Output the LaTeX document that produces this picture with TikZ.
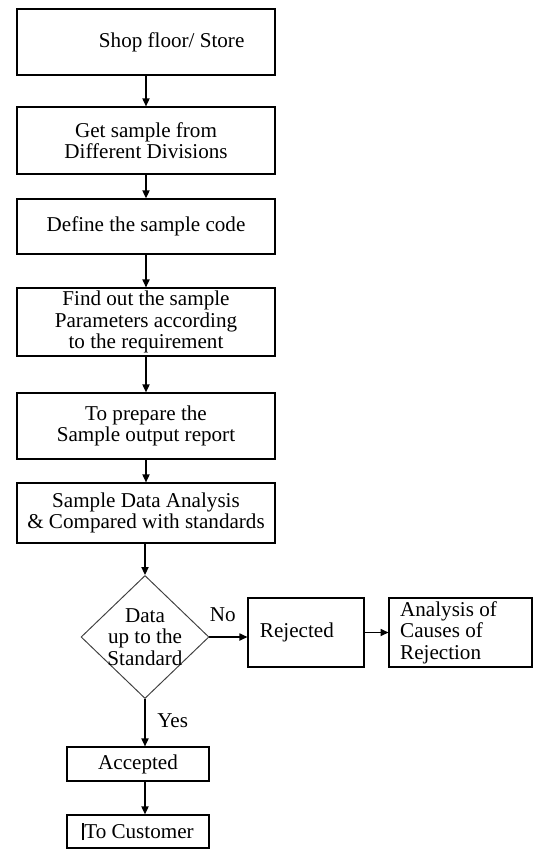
\documentclass[tikz,border=0pt]{standalone}
\usepackage{fontspec}
\setmainfont{Liberation Serif}
\usetikzlibrary{shapes.geometric}
\usetikzlibrary{arrows.meta}
\pgfdeclarelayer{edgelayer}
\pgfdeclarelayer{nodelayer}
\pgfsetlayers{edgelayer,nodelayer,main}
\tikzstyle{box}=[rectangle,fill=white,draw=black,thick,align=center,inner sep=2pt,minimum width=162.5pt]
\tikzstyle{smallbox}=[rectangle,fill=white,draw=black,thick,inner sep=2pt,minimum height=43.5pt]
\tikzstyle{check}=[diamond,fill=white,draw=black!75,semithick,align=center,inner sep=-7pt,minimum width=80.6pt,minimum height=77.5pt]
\tikzstyle{flow}=[-{Triangle[length=5pt,width=4.5pt]},thick]

\begin{document}
\begin{tikzpicture}[x=0.63pt,y=-0.63pt,font=\fontsize{13.3}{13.6}\selectfont]
        \useasboundingbox (0,0) rectangle (534,849);
        \begin{pgfonlayer}{nodelayer}
            \node [style = box, minimum height=41.6pt, text width=124pt, align=flush right] (shop) at (146, 42) {Shop floor/ Store};
            \node [style = box, minimum height=42.2pt] (sample) at (146, 140.5) {Get sample from\\Different Divisions};
            \node [style = box, minimum height=34.7pt] (code) at (146, 226.5) {Define the sample code};
            \node [style = box, minimum height=42.8pt, inner ysep=0pt] (params) at (146, 322) {Find out the sample\\Parameters according\\to the requirement};
            \node [style = box, minimum height=41.6pt] (report) at (146, 426) {To prepare the\\Sample output report};
            \node [style = box, minimum height=37.8pt] (compare) at (146, 513) {Sample Data Analysis\\\& Compared with standards};
            \node [style = check] (dec) at (145, 637) {Data\\up to the\\Standard};
            \node [style = smallbox, minimum width=73pt, text width=58pt, align=flush left] (rej) at (306, 632.5) {Rejected};
            \node [style = smallbox, minimum width=90pt, text width=76pt, align=flush left] (cause) at (460.5, 632.5) {Analysis of\\Causes of\\Rejection};
            \node [style = box, minimum width=89.5pt, minimum height=21.4pt] (acc) at (138, 764) {Accepted};
            \node [style = box, minimum width=89.5pt, minimum height=20.8pt] (cust) at (138, 831.5) {\rule[-1pt]{1.3pt}{11pt}To Customer};
        \end{pgfonlayer}

        \begin{pgfonlayer}{edgelayer}
            \draw [style = flow] (shop) -- (sample);
            \draw [style = flow] (sample) -- (code);
            \draw [style = flow] (code) -- (params);
            \draw [style = flow] (params) -- (report);
            \draw [style = flow] (report) -- (compare);
            \draw [style = flow] (compare.south -| dec.north) -- (dec);
            \draw [style = flow] (dec.east) -- node [above=6pt, pos=0.35] {No} (dec.east -| rej.west);
            \draw [style = flow] (rej) -- (cause);
            \draw [style = flow] (dec) -- node [right=4pt, pos=0.45] {Yes} (dec.south |- acc.north);
            \draw [style = flow] (dec.south |- acc.south) -- (dec.south |- cust.north);
        \end{pgfonlayer}
    \end{tikzpicture}
\end{document}
